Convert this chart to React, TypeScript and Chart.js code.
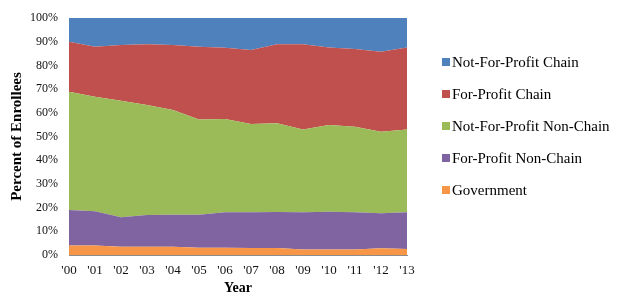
import React, { useEffect, useRef } from "react";
import { Chart, registerables } from "chart.js";

Chart.register(...registerables);

const years = ["'00", "'01", "'02", "'03", "'04", "'05", "'06", "'07", "'08", "'09", "'10", "'11", "'12", "'13"];
const government = [4.0, 4.0, 3.5, 3.5, 3.5, 3.1, 3.1, 3.0, 3.0, 2.3, 2.3, 2.3, 2.8, 2.5];
const forProfitNonChain = [15.0, 14.5, 12.4, 13.4, 13.5, 13.9, 14.9, 15.0, 15.1, 15.7, 16.0, 15.7, 14.8, 15.5];
const notForProfitNonChain = [49.9, 48.3, 49.2, 46.4, 44.2, 40.2, 39.4, 37.3, 37.5, 35.0, 36.6, 36.1, 34.4, 35.0];
const forProfitChain = [21.1, 21.1, 23.5, 25.6, 27.4, 30.7, 30.1, 31.2, 33.3, 35.9, 32.7, 32.8, 33.8, 34.6];
const notForProfitChain = [10.0, 12.1, 11.4, 11.1, 11.4, 12.1, 12.5, 13.5, 11.1, 11.1, 12.4, 13.1, 14.2, 12.4];
const yTicks = [0, 10, 20, 30, 40, 50, 60, 70, 80, 90, 100];

const SERIF = "'Liberation Serif', 'Times New Roman', serif";

const legendPlugin = {
  id: "customLegend",
  afterDraw(chart: any) {
    const ctx = chart.ctx;
    const ds = chart.data.datasets.slice().reverse();
    ctx.save();
    ctx.font = `15px ${SERIF}`;
    ctx.textBaseline = "middle";
    ctx.textAlign = "left";
    ds.forEach((d: any, i: number) => {
      const cy = 62 + i * 32;
      ctx.fillStyle = d.backgroundColor;
      ctx.fillRect(442, cy - 4, 8, 8);
      ctx.fillStyle = "#000";
      ctx.fillText(d.label, 452, cy + 1);
    });
    ctx.restore();
  },
};

export default function App() {
  const ref = useRef<HTMLCanvasElement | null>(null);
  useEffect(() => {
    document.body.style.margin = "0";
    const mk = (label: string, data: number[], color: string, fill: any) => ({
      label,
      data,
      backgroundColor: color,
      borderColor: color,
      borderWidth: 0,
      pointRadius: 0,
      fill,
      tension: 0,
    });
    const chart = new Chart(ref.current as HTMLCanvasElement, {
      type: "line",
      data: {
        labels: years,
        datasets: [
          mk("Government", government, "#F79646", "origin"),
          mk("For-Profit Non-Chain", forProfitNonChain, "#8064A2", "-1"),
          mk("Not-For-Profit Non-Chain", notForProfitNonChain, "#9BBB59", "-1"),
          mk("For-Profit Chain", forProfitChain, "#C0504D", "-1"),
          mk("Not-For-Profit Chain", notForProfitChain, "#4F81BD", "-1"),
        ],
      },
      options: {
        animation: false,
        responsive: false,
        layout: { padding: { left: 0, right: 218, top: 18, bottom: 0 } },
        plugins: { legend: { display: false }, tooltip: { enabled: false } },
        scales: {
          x: {
            offset: false,
            grid: { display: false },
            border: { display: true, color: "#8c8c8c" },
            ticks: { font: { family: SERIF, size: 13 }, color: "#111", padding: 0, maxRotation: 0, autoSkip: false },
            title: { display: true, text: "Year", font: { family: SERIF, size: 14, weight: "bold" }, color: "#000", padding: { top: 0, bottom: 10 } },
            afterFit: (s: any) => { s.height = 52; },
          },
          y: {
            stacked: true,
            min: 0,
            max: 100,
            afterBuildTicks: (s: any) => { s.ticks = yTicks.map((v) => ({ value: v })); },
            grid: { display: false },
            border: { display: true, color: "#8c8c8c" },
            ticks: { font: { family: SERIF, size: 12 }, color: "#111", padding: 3, callback: (v: any) => v + "%" },
            title: { display: true, text: "Percent of Enrollees", font: { family: SERIF, size: 15, weight: "bold" }, color: "#000", padding: { top: 8, bottom: 0 } },
            afterFit: (s: any) => { s.width = 69; },
          },
        },
      },
      plugins: [legendPlugin],
    });
    return () => chart.destroy();
  }, []);
  return (
    <div style={{ width: 625, height: 307, position: "relative" }}>
      <canvas ref={ref} width={625} height={307} />
    </div>
  );
}
